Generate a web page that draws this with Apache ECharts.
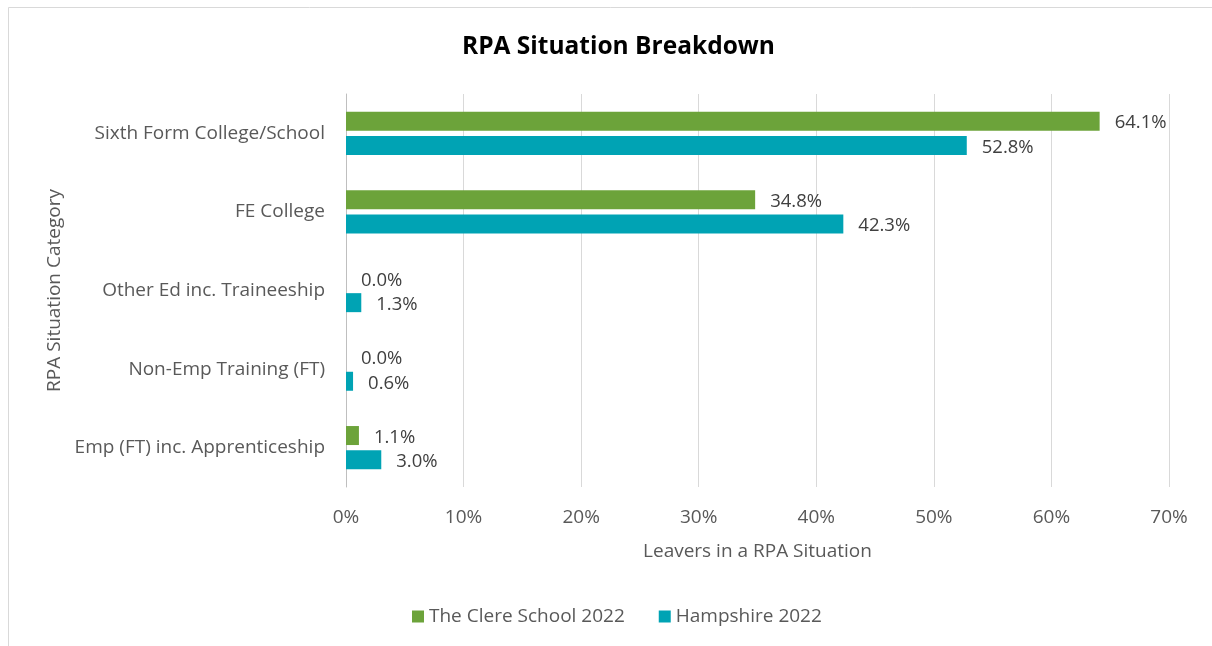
<!DOCTYPE html>
<html>
<head>
<meta charset="utf-8">
<script src="https://cdn.jsdelivr.net/npm/echarts@6/dist/echarts.min.js"></script>
<style>
  html, body { margin: 0; padding: 0; background: #fff; }
  #rpaChart { width: 1212px; height: 646px; }
</style>
</head>
<body>
<div id="rpaChart"></div>
<script>
// chart data
const categories = ['Sixth Form College/School', 'FE College', 'Other Ed inc. Traineeship', 'Non-Emp Training (FT)', 'Emp (FT) inc. Apprenticeship'];
const clereSchool = [64.1, 34.8, 0.0, 0.0, 1.1];
const hampshire = [52.8, 42.3, 1.3, 0.6, 3.0];
const seriesNames = ['The Clere School 2022', 'Hampshire 2022'];

const fontName = '"Open Sans", "Noto Sans", sans-serif';

let chartContainer = document.getElementById('rpaChart');
let myChart = echarts.init(chartContainer);

let labelStyle = {
  show: true,
  position: 'right',
  distance: 15,
  offset: [0, 2],
  color: '#404040',
  fontSize: 18.5,
  fontFamily: fontName,
  formatter: function (params) {
    return params.value.toFixed(1) + '%';
  }
};

let option = {
  animation: false,
  backgroundColor: '#fff',
  graphic: [{
    type: 'rect',
    shape: { x: 8.5, y: 7.5, width: 1220, height: 660 },
    style: { fill: 'none', stroke: '#d9d9d9', lineWidth: 1 },
    silent: true
  }],
  title: {
    text: 'RPA Situation Breakdown',
    left: 457,
    top: 30,
    textStyle: { fontSize: 24.5, fontWeight: 'bold', color: '#000', fontFamily: fontName }
  },
  legend: {
    data: seriesNames,
    top: 602,
    left: 407,
    icon: 'rect',
    itemWidth: 12,
    itemHeight: 12,
    itemGap: 34,
    textStyle: { fontSize: 19, color: '#595959', fontFamily: fontName }
  },
  grid: {
    left: 346,
    right: 43,
    top: 94,
    bottom: 159
  },
  xAxis: {
    type: 'value',
    min: 0,
    max: 70,
    interval: 10,
    name: 'Leavers in a RPA Situation',
    nameLocation: 'middle',
    nameGap: 55,
    nameTextStyle: { fontSize: 19, color: '#595959', fontFamily: fontName },
    axisLine: { show: false },
    axisTick: { show: false },
    axisLabel: {
      formatter: '{value}%',
      margin: 21,
      fontSize: 19,
      color: '#595959',
      fontFamily: fontName
    },
    splitLine: { lineStyle: { color: '#d9d9d9', width: 1 } }
  },
  yAxis: {
    type: 'category',
    inverse: true,
    data: categories,
    name: 'RPA Situation Category',
    nameLocation: 'middle',
    nameGap: 281,
    nameTextStyle: { fontSize: 19, color: '#595959', fontFamily: fontName },
    axisLine: { show: true, lineStyle: { color: '#bfbfbf', width: 1 } },
    axisTick: { show: false },
    axisLabel: {
      margin: 21,
      fontSize: 19,
      color: '#595959',
      fontFamily: fontName
    }
  },
  series: [
    {
      name: seriesNames[0],
      type: 'bar',
      data: clereSchool,
      barWidth: 19,
      barGap: '28%',
      itemStyle: { color: '#6ca33a' },
      label: labelStyle
    },
    {
      name: seriesNames[1],
      type: 'bar',
      data: hampshire,
      barWidth: 19,
      barGap: '28%',
      itemStyle: { color: '#00a3b4' },
      label: labelStyle
    }
  ]
};

myChart.setOption(option);
</script>
</body>
</html>
